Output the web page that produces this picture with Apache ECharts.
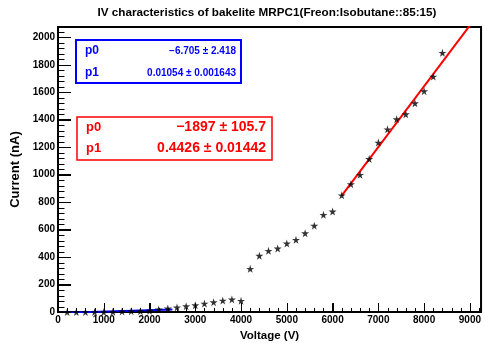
<!DOCTYPE html>
<html>
<head>
<meta charset="utf-8">
<script src="https://cdn.jsdelivr.net/npm/echarts@6/dist/echarts.min.js"></script>
<style>
html,body{margin:0;padding:0;background:#fff;}
#c{width:484px;height:347px;}
</style>
</head>
<body>
<div id="c"></div>
<script>
// ---- data ----
const titleText = 'IV characteristics of bakelite MRPC1(Freon:Isobutane::85:15)';
const xTitle = 'Voltage (V)';
const yTitle = 'Current (nA)';
const voltage = [200,400,600,800,1000,1200,1400,1600,1800,2000,2200,2400,2600,2800,3000,3200,3400,3600,3800,4000,
  4200,4400,4600,4800,5000,5200,5400,5600,5800,6000,6200,6400,6600,6800,7000,7200,7400,7600,7800,8000,8200,8400];
const current = [0,0,0,0,0,2,5,7,7,10,19,26,34,43,50,62,72,84,92,82,
  315,410,446,463,499,526,574,629,708,732,850,931,999,1114,1234,1330,1404,1440,1520,1608,1714,1887];
const fit1 = {p0: -6.705, p1: 0.01054, range: [0, 2500]};
const fit1Labels = ['p0', 'p1'];
const fit1Values = ['\u22126.705 \u00b1 2.418', '0.01054 \u00b1 0.001643'];
const fit2 = {p0: -1897, p1: 0.4426, range: [6200, 9300]};
const fit2Labels = ['p0', 'p1'];
const fit2Values = ['\u22121897 \u00b1 105.7', '0.4426 \u00b1 0.01442'];
const xRange = [0, 9244];
const yRange = [0, 2075];
const xStep = [1000, 200];   // major, minor tick spacing
const yStep = [200, 40];

// ---- chart ----
const FONT = '"Liberation Sans", Arial, Helvetica, sans-serif';
const pairs = voltage.map((v, i) => [v, current[i]]);
const lineOf = f => f.range.map(x => [x, f.p0 + f.p1 * x]);
const star = 'path://M50,0 L61,35 L98,35 L68,57 L79,91 L50,70 L21,91 L32,57 L2,35 L39,35 Z';
const plain = v => String(Math.round(v));
const labelStyle = {color: '#000', fontFamily: FONT, fontWeight: 'bold', fontSize: 10, margin: 3, showMaxLabel: false, formatter: plain};

const boxGraphic = [
  {type: 'text', x: 267, y: 13, style: {text: titleText, fill: '#000', font: 'bold 11.7px ' + FONT, align: 'center', verticalAlign: 'middle'}},
  {type: 'rect', shape: {x: 76, y: 40, width: 165, height: 43}, style: {fill: '#fff', stroke: '#0000ff', lineWidth: 2}, z: 10},
  {type: 'text', x: 85, y: 51, style: {text: fit1Labels[0], fill: '#0000ff', font: 'bold 12px ' + FONT, align: 'left', verticalAlign: 'middle'}, z: 11},
  {type: 'text', x: 85, y: 73, style: {text: fit1Labels[1], fill: '#0000ff', font: 'bold 12px ' + FONT, align: 'left', verticalAlign: 'middle'}, z: 11},
  {type: 'text', x: 236, y: 51, style: {text: fit1Values[0], fill: '#0000ff', font: 'bold 10px ' + FONT, align: 'right', verticalAlign: 'middle'}, z: 11},
  {type: 'text', x: 236, y: 73, style: {text: fit1Values[1], fill: '#0000ff', font: 'bold 10px ' + FONT, align: 'right', verticalAlign: 'middle'}, z: 11},
  {type: 'rect', shape: {x: 77, y: 117, width: 195, height: 43}, style: {fill: '#fff', stroke: '#ff0000', lineWidth: 1.5}, z: 10},
  {type: 'text', x: 86, y: 127, style: {text: fit2Labels[0], fill: '#ff0000', font: 'bold 13px ' + FONT, align: 'left', verticalAlign: 'middle'}, z: 11},
  {type: 'text', x: 86, y: 148, style: {text: fit2Labels[1], fill: '#ff0000', font: 'bold 13px ' + FONT, align: 'left', verticalAlign: 'middle'}, z: 11},
  {type: 'text', x: 266, y: 127, style: {text: fit2Values[0], fill: '#ff0000', font: 'bold 14px ' + FONT, align: 'right', verticalAlign: 'middle'}, z: 11},
  {type: 'text', x: 266, y: 148, style: {text: fit2Values[1], fill: '#ff0000', font: 'bold 14px ' + FONT, align: 'right', verticalAlign: 'middle'}, z: 11}
];

const chart = echarts.init(document.getElementById('c'), null, {renderer: 'canvas'});
chart.setOption({
  animation: false,
  backgroundColor: '#fff',
  grid: {left: 58, top: 27, right: -2, bottom: 32, show: true, borderColor: '#000', borderWidth: 2, backgroundColor: 'transparent'},
  xAxis: {
    type: 'value', min: xRange[0], max: xRange[1], interval: xStep[0],
    axisLine: {show: true, onZero: false, lineStyle: {color: '#000', width: 2}},
    splitLine: {show: false},
    axisTick: {show: true, inside: true, length: 9, lineStyle: {color: '#000', width: 1}},
    axisLabel: labelStyle,
    name: xTitle, nameLocation: 'middle', nameGap: 14,
    nameTextStyle: {color: '#000', fontFamily: FONT, fontWeight: 'bold', fontSize: 11.5}
  },
  yAxis: {
    type: 'value', min: yRange[0], max: yRange[1], interval: yStep[0],
    axisLine: {show: true, onZero: false, lineStyle: {color: '#000', width: 2}},
    splitLine: {show: false},
    axisTick: {show: true, inside: true, length: 13, lineStyle: {color: '#000', width: 1}},
    axisLabel: labelStyle,
    name: yTitle, nameLocation: 'middle', nameGap: 28,
    nameTextStyle: {color: '#000', fontFamily: FONT, fontWeight: 'bold', fontSize: 13}
  },
  series: [
    {type: 'line', data: lineOf(fit1), showSymbol: false, symbol: 'none', clip: true,
     lineStyle: {color: '#0000ff', width: 2}, z: 3},
    {type: 'line', data: lineOf(fit2), showSymbol: false, symbol: 'none', clip: true,
     lineStyle: {color: '#ff0000', width: 2}, z: 3},
    {type: 'scatter', data: pairs, symbol: star, symbolSize: 8,
     itemStyle: {color: '#000'}, z: 4}
  ],
  graphic: boxGraphic
});

// tick marks, positioned through the chart's own axis scales
const toPx = (x, y) => chart.convertToPixel({xAxisIndex: 0, yAxisIndex: 0}, [x, y]);
const tickGraphic = [];
for (let v = xRange[0]; v <= xRange[1]; v += xStep[1]) {
  const p = toPx(v, yRange[0]);
  const len = v % xStep[0] === 0 ? 9 : 4;
  const x = Math.round(p[0]) + 0.5, y = Math.round(p[1]);
  tickGraphic.push({type: 'line', silent: true, z: 5,
    shape: {x1: x, y1: y, x2: x, y2: y - len}, style: {stroke: '#000', lineWidth: 1}});
}
for (let v = yRange[0]; v <= yRange[1]; v += yStep[1]) {
  const p = toPx(xRange[0], v);
  const len = v % yStep[0] === 0 ? 13 : 6.5;
  const x = Math.round(p[0]), y = Math.round(p[1]) + 0.5;
  tickGraphic.push({type: 'line', silent: true, z: 5,
    shape: {x1: x, y1: y, x2: x + len, y2: y}, style: {stroke: '#000', lineWidth: 1}});
}
chart.setOption({graphic: boxGraphic.concat(tickGraphic)});
</script>
</body>
</html>
